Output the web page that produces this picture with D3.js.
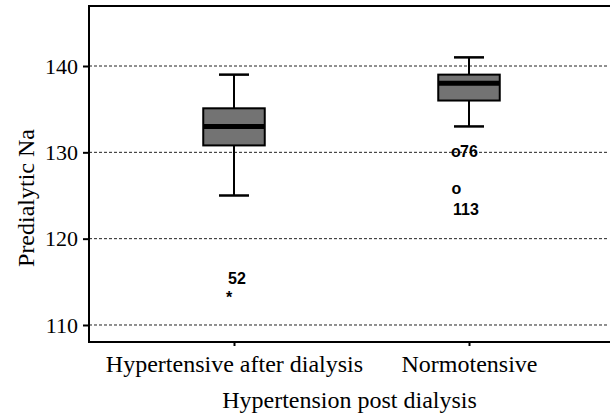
<!DOCTYPE html>
<html>
<head>
<meta charset="utf-8">
<script src="https://cdn.jsdelivr.net/npm/d3@7"></script>
<style>
  body { margin: 0; background: #fff; }
  svg { display: block; }
</style>
</head>
<body>
<div id="chart"></div>
<script>
// box plot statistics
const categories = ["Hypertensive after dialysis", "Normotensive"];
const whiskerLow = [125, 133];
const q1 = [130.8, 136];
const median = [133, 138];
const q3 = [135.1, 139];
const whiskerHigh = [139, 141];

// outliers / extremes
const outlierGroup = [0, 1, 1];
const outlierValue = [113.6, 130, 125.7];
const outlierSymbol = ["*", "o", "o"];
const outlierLabel = ["52", "76", "113"];

const yTicks = [110, 120, 130, 140];

const yTitle = "Predialytic Na";
const xTitle = "Hypertension post dialysis";

function init() {
    const width = 610, height = 417;
    const left = 89, top = 6, bottom = 342, right = 610;

    const svg = d3.select("#chart")
        .append("svg")
        .attr("width", width)
        .attr("height", height);

    const x = d3.scalePoint()
        .domain(categories)
        .range([left, 614])
        .padding(0.617);

    const y = d3.scaleLinear()
        .domain([108.03, 146.95])
        .range([bottom, top]);

    // dashed grid
    svg.append("g")
        .selectAll("line")
        .data(yTicks)
        .enter()
        .append("line")
        .attr("x1", left)
        .attr("x2", 608)
        .attr("y1", d => y(d))
        .attr("y2", d => y(d))
        .attr("stroke", "#222")
        .attr("stroke-width", 1)
        .attr("stroke-dasharray", "3,2");

    // y axis
    const yAxis = svg.append("g")
        .attr("transform", `translate(${left},0)`)
        .call(d3.axisLeft(y).tickValues(yTicks).tickSize(6).tickPadding(5));
    yAxis.select(".domain").remove();
    yAxis.selectAll(".tick line").attr("stroke", "#000").attr("stroke-width", 2);
    yAxis.selectAll(".tick text")
        .attr("font-family", "Liberation Serif, Times New Roman, serif")
        .attr("font-size", 22)
        .attr("fill", "#000");

    // x axis
    const xAxis = svg.append("g")
        .attr("transform", `translate(0,${bottom})`)
        .call(d3.axisBottom(x).tickSize(4).tickPadding(9));
    xAxis.select(".domain").remove();
    xAxis.selectAll(".tick line").attr("stroke", "#000").attr("stroke-width", 2);
    xAxis.selectAll(".tick text")
        .attr("font-family", "Liberation Serif, Times New Roman, serif")
        .attr("font-size", 24)
        .attr("fill", "#000");

    // frame: left, top, bottom (open to the right)
    svg.append("path")
        .attr("d", `M${right},${top}H${left}V${bottom}H${right}`)
        .attr("fill", "none")
        .attr("stroke", "#000")
        .attr("stroke-width", 2);

    // boxes
    const boxW = 61.5, capW = 30;
    const g = svg.append("g");
    const groups = g.selectAll("g.box")
        .data(categories)
        .enter()
        .append("g")
        .classed("box", true);

    groups.append("line")
        .attr("x1", d => x(d)).attr("x2", d => x(d))
        .attr("y1", (d, i) => y(whiskerHigh[i]))
        .attr("y2", (d, i) => y(whiskerLow[i]))
        .attr("stroke", "#000").attr("stroke-width", 2);

    groups.selectAll("line.cap")
        .data((d, i) => [whiskerLow[i], whiskerHigh[i]].map(v => ({ c: x(d), v: v })))
        .enter()
        .append("line")
        .attr("x1", d => d.c - capW / 2)
        .attr("x2", d => d.c + capW / 2)
        .attr("y1", d => y(d.v))
        .attr("y2", d => y(d.v))
        .attr("stroke", "#000").attr("stroke-width", 2.5)
        .classed("cap", true);

    groups.append("rect")
        .attr("x", d => x(d) - boxW / 2)
        .attr("width", boxW)
        .attr("y", (d, i) => y(q3[i]))
        .attr("height", (d, i) => y(q1[i]) - y(q3[i]))
        .attr("fill", "#737373")
        .attr("stroke", "#000").attr("stroke-width", 2);

    groups.append("line")
        .attr("x1", d => x(d) - boxW / 2)
        .attr("x2", d => x(d) + boxW / 2)
        .attr("y1", (d, i) => y(median[i]))
        .attr("y2", (d, i) => y(median[i]))
        .attr("stroke", "#000").attr("stroke-width", 5);

    // outliers: symbol + case number
    const place = {
        "52":  { sx: -5, lx: -6, ly: -10 },
        "76":  { sx: -13, lx: -9, ly: 4.5 },
        "113": { sx: -12.5, lx: -16, ly: 26 }
    };
    const outl = outlierValue.map((v, i) => ({
        v: v, c: x(categories[outlierGroup[i]]),
        s: outlierSymbol[i], l: outlierLabel[i]
    }));

    g.selectAll("text.sym")
        .data(outl)
        .enter()
        .append("text")
        .attr("x", d => d.c + place[d.l].sx)
        .attr("y", d => y(d.v) + (d.s === "*" ? 9 : 4.5))
        .attr("text-anchor", "middle")
        .attr("font-family", "Liberation Sans, Arial, sans-serif")
        .attr("font-weight", "bold")
        .attr("font-size", 16)
        .text(d => d.s)
        .classed("sym", true);

    g.selectAll("text.lab")
        .data(outl)
        .enter()
        .append("text")
        .attr("x", d => d.c + place[d.l].lx)
        .attr("y", d => y(d.v) + place[d.l].ly)
        .attr("font-family", "Liberation Sans, Arial, sans-serif")
        .attr("font-weight", "bold")
        .attr("font-size", 16)
        .text(d => d.l)
        .classed("lab", true);

    // axis titles
    svg.append("text")
        .attr("x", (left + right) / 2)
        .attr("y", 408)
        .attr("text-anchor", "middle")
        .attr("font-family", "Liberation Serif, Times New Roman, serif")
        .attr("font-size", 24)
        .text(xTitle);

    svg.append("text")
        .attr("transform", "translate(34,198) rotate(-90)")
        .attr("text-anchor", "middle")
        .attr("font-family", "Liberation Serif, Times New Roman, serif")
        .attr("font-size", 24)
        .text(yTitle);
}

window.onload = init;
</script>
</body>
</html>
